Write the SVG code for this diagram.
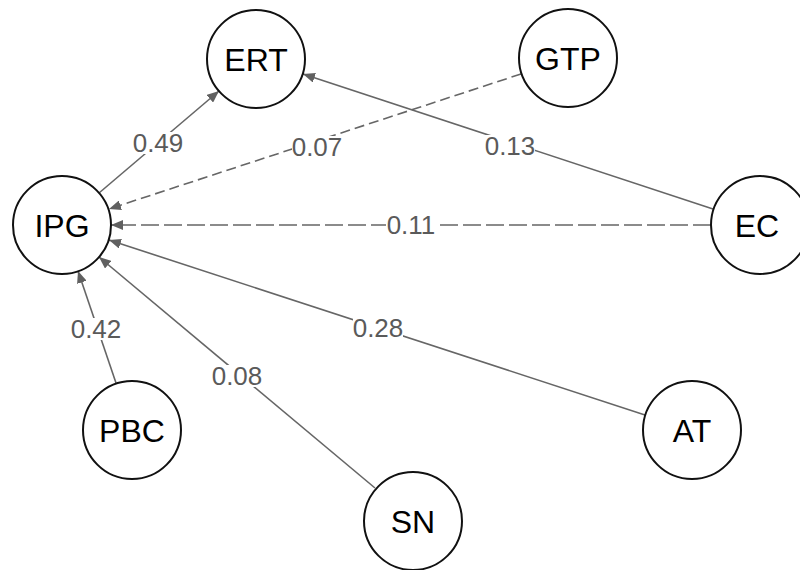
<svg xmlns="http://www.w3.org/2000/svg" width="800" height="570" viewBox="0 0 800 570">
<defs>
<marker id="ah" viewBox="0 0 12 10" refX="12" refY="5" markerWidth="12" markerHeight="10" markerUnits="userSpaceOnUse" orient="auto">
<path d="M0,0 L12,5 L0,10 Z" fill="#606060"/>
</marker>
<style>
.node circle{fill:#fff;stroke:#111;stroke-width:2}
.node text{font-family:"Liberation Sans",Arial,sans-serif;font-size:32px;fill:#000;text-anchor:middle;dominant-baseline:central}
.edge{stroke:#666;stroke-width:1.6;fill:none;marker-end:url(#ah)}
.short{stroke-dasharray:10 5}
.long{stroke-dasharray:18 5}
.lbl text{font-family:"Liberation Sans",Arial,sans-serif;font-size:26px;fill:#5a5a5a;text-anchor:middle;dominant-baseline:central}
.lbl rect{fill:#fff}
</style>
</defs>
<rect width="800" height="570" fill="#fff"/>
<g id="connectors">
<line class="edge" x1="99" y1="193" x2="219" y2="91"/>
<line class="edge short" x1="521" y1="74" x2="109" y2="209"/>
<line class="edge" x1="713" y1="209" x2="303" y2="74"/>
<line class="edge long" x1="711" y1="225" x2="111" y2="225"/>
<line class="edge" x1="645" y1="415" x2="109" y2="240"/>
<line class="edge" x1="375" y1="488" x2="99" y2="257"/>
<line class="edge" x1="116" y1="383" x2="78" y2="271"/>
<g class="lbl">
<rect x="134" y="132" width="50" height="22"/><text x="158" y="143">0.49</text>
<rect x="292" y="136" width="50" height="22"/><text x="317" y="147">0.07</text>
<rect x="485" y="135" width="50" height="22"/><text x="510" y="146">0.13</text>
<rect x="386" y="214" width="50" height="22"/><text x="411" y="225">0.11</text>
<rect x="353" y="317" width="50" height="22"/><text x="378" y="328">0.28</text>
<rect x="212" y="365" width="50" height="22"/><text x="237" y="376">0.08</text>
<rect x="71" y="318" width="50" height="22"/><text x="96" y="329">0.42</text>
</g>
</g>
<g id="ERT" class="node"><circle cx="256" cy="59" r="49"/><text x="256" y="60">ERT</text></g>
<g id="GTP" class="node"><circle cx="568" cy="58" r="49"/><text x="568" y="59">GTP</text></g>
<g id="IPG" class="node"><circle cx="62" cy="225" r="49"/><text x="62" y="226">IPG</text></g>
<g id="EC" class="node"><circle cx="760" cy="225" r="49"/><text x="757" y="226">EC</text></g>
<g id="PBC" class="node"><circle cx="132" cy="430" r="49"/><text x="132" y="431">PBC</text></g>
<g id="AT" class="node"><circle cx="692" cy="430" r="49"/><text x="692" y="431">AT</text></g>
<g id="SN" class="node"><circle cx="413" cy="521" r="49"/><text x="413" y="522">SN</text></g>
</svg>
